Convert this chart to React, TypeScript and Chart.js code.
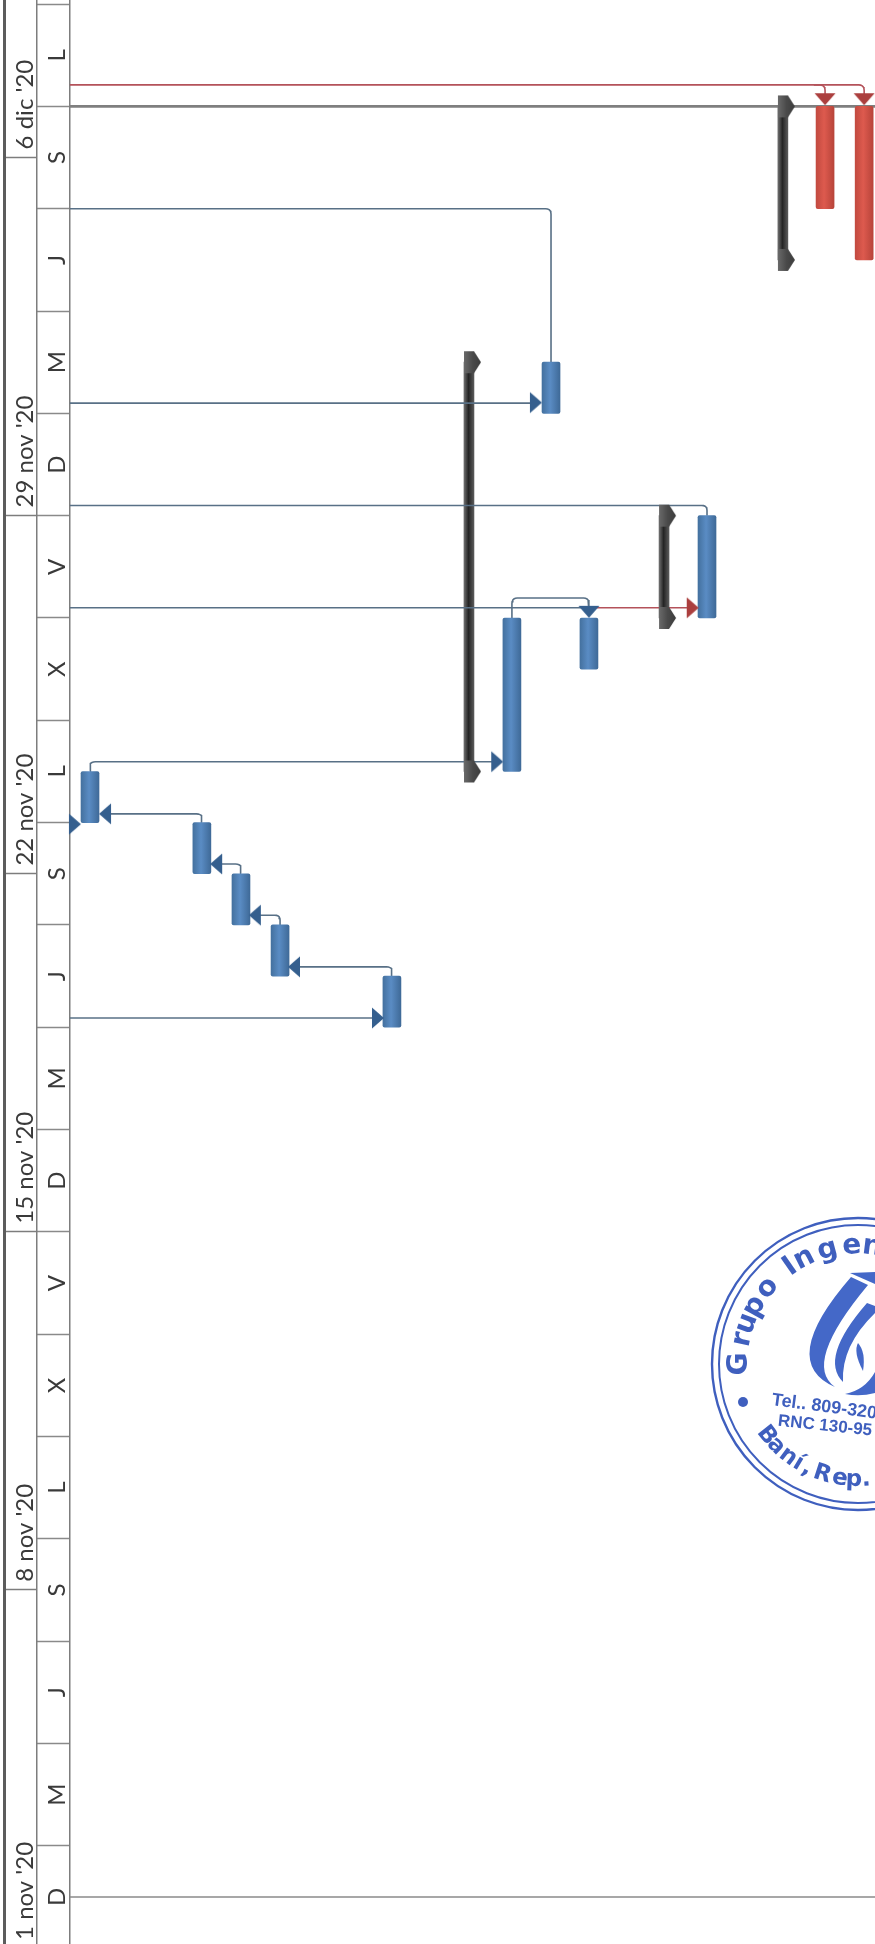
import React, { useEffect, useRef } from "react";
import { Chart, registerables } from "chart.js";

Chart.register(...registerables);

// Time is in days since Sunday 1 Nov 2020; rows count task rows of the rotated Gantt.
const dayLabels = ["D", "M", "J", "S", "L", "X", "V", "D", "M", "J", "S", "L", "X", "V", "D", "M", "J", "S", "L"];
const dayCellStarts = [0, 2, 4, 6, 8, 10, 12, 14, 16, 18, 20, 22, 24, 26, 28, 30, 32, 34, 36, 38];
const weekLabels = ["1 nov '20", "8 nov '20", "15 nov '20", "22 nov '20", "29 nov '20", "6 dic '20"];
const weekStarts = [0, 7, 14, 21, 28, 35];

const taskRows = [0, 2.89, 3.9, 4.91, 7.8, 10.9, 11.91, 12.89, 15.94];
const taskStarts = [22, 21, 20, 19, 18, 23, 30, 25, 26];
const taskEnds = [23, 22, 21, 20, 19, 26, 31, 26, 28];

const criticalRows = [18.99, 20];
const criticalStarts = [34, 33];
const criticalEnds = [36, 36];

const summaryRows = [9.79, 14.83, 17.9];
const summaryStarts = [23, 26, 33];
const summaryEnds = [31, 28, 36];

const blueLinks: number[][][] = [
  [[-0.52, 34], [11.91, 34], [11.91, 31]],
  [[-0.52, 30.2], [11.52, 30.2]],
  [[-0.52, 28.2], [15.94, 28.2], [15.94, 28]],
  [[-0.52, 26.2], [12.89, 26.2]],
  [[10.9, 26], [10.9, 26.39], [12.89, 26.39], [12.89, 26.15]],
  [[0, 23], [0, 23.19], [10.52, 23.19]],
  [[2.89, 22], [2.89, 22.17], [0.39, 22.17]],
  [[3.9, 21], [3.9, 21.19], [3.26, 21.19]],
  [[4.91, 20], [4.91, 20.19], [4.26, 20.19]],
  [[7.8, 19], [7.8, 19.18], [5.27, 19.18]],
  [[-0.52, 18.18], [7.44, 18.18]],
];
const redLinks: number[][][] = [
  [[-0.52, 36.42], [20, 36.42], [20, 36.14]],
  [[18.7, 36.42], [18.99, 36.42], [18.99, 36.14]],
  [[12.89, 26.2], [15.57, 26.2]],
];
const greyRules: number[][][] = [
  [[-0.52, 36], [20.3, 36]],
];
const thinRules: number[][][] = [
  [[-0.52, 1], [20.3, 1]],
];

const blueArrowRows = [11.52, 10.52, -0.39, 0.39, 3.26, 4.26, 5.27, 7.44, 12.89];
const blueArrowDays = [30.21, 23.19, 21.97, 22.17, 21.19, 20.19, 19.18, 18.18, 26.12];
const blueArrowTurns = [0, 0, 0, 180, 180, 180, 180, 0, 90];
const redArrowRows = [15.57, 18.99, 20];
const redArrowDays = [26.2, 36.14, 36.14];
const redArrowTurns = [0, 90, 90];

const dayMin = 0.08;
const dayMax = 38.08;
const rowMin = -0.517;
const rowMax = 20.28;
const weekLabelOffset = 0.16;

const BLUE_LINK = "#587086";
const RED_LINK = "#b4525a";

function rounded(path: number[][]): { x: number; y: number }[] {
  const rx = 0.14;
  const ry = 0.11;
  const out: { x: number; y: number }[] = [{ x: path[0][0], y: path[0][1] }];
  for (let i = 1; i < path.length - 1; i++) {
    const [px, py] = path[i - 1];
    const [cx, cy] = path[i];
    const [nx, ny] = path[i + 1];
    const cut = (ax: number, ay: number) => {
      const dx = ax - cx;
      const dy = ay - cy;
      const fx = dx === 0 ? 0 : Math.min(rx, Math.abs(dx) / 2) * Math.sign(dx);
      const fy = dy === 0 ? 0 : Math.min(ry, Math.abs(dy) / 2) * Math.sign(dy);
      return [cx + fx, cy + fy];
    };
    const a = cut(px, py);
    const b = cut(nx, ny);
    for (let k = 0; k <= 5; k++) {
      const t = k / 5;
      out.push({
        x: (1 - t) * (1 - t) * a[0] + 2 * t * (1 - t) * cx + t * t * b[0],
        y: (1 - t) * (1 - t) * a[1] + 2 * t * (1 - t) * cy + t * t * b[1],
      });
    }
  }
  const last = path[path.length - 1];
  out.push({ x: last[0], y: last[1] });
  return out;
}

function arrowSprite(color: string): HTMLCanvasElement {
  const c = document.createElement("canvas");
  c.width = 24;
  c.height = 24;
  const g = c.getContext("2d")!;
  g.fillStyle = color;
  g.beginPath();
  g.moveTo(6, 1.5);
  g.lineTo(18, 12);
  g.lineTo(6, 22.5);
  g.closePath();
  g.fill();
  return c;
}

function capSprite(): HTMLCanvasElement {
  const c = document.createElement("canvas");
  c.width = 26;
  c.height = 24;
  const g = c.getContext("2d")!;
  const grad = g.createLinearGradient(8, 0, 25, 0);
  grad.addColorStop(0, "#6a6a6a");
  grad.addColorStop(0.5, "#4a4a4a");
  grad.addColorStop(1, "#3c3c3c");
  g.fillStyle = grad;
  g.beginPath();
  g.moveTo(8, 1);
  g.lineTo(18, 1);
  g.lineTo(25, 12);
  g.lineTo(18, 23);
  g.lineTo(8, 23);
  g.closePath();
  g.fill();
  return c;
}

const stampPlugin = {
  id: "stamp",
  afterDraw(chart: any) {
    const g: CanvasRenderingContext2D = chart.ctx;
    const cx = 858;
    const cy = 1364;
    const ink = "#3f5fbe";
    g.save();
    g.strokeStyle = ink;
    g.fillStyle = ink;
    g.lineWidth = 2.4;
    g.beginPath();
    g.arc(cx, cy, 146, 0, Math.PI * 2);
    g.stroke();
    g.lineWidth = 2;
    g.beginPath();
    g.arc(cx, cy, 139, 0, Math.PI * 2);
    g.stroke();

    const top = "Grupo Ingen".split("");
    const topAngles = [0, 12, 20, 29, 40, 0, 55, 63, 75, 87, 97];
    g.font = "bold 28px 'DejaVu Sans'";
    g.textAlign = "center";
    g.textBaseline = "middle";
    top.forEach((ch, i) => {
      if (ch === " ") return;
      const a = (topAngles[i] * Math.PI) / 180;
      g.save();
      g.translate(cx - 118 * Math.cos(a), cy - 118 * Math.sin(a));
      g.rotate(a - Math.PI / 2);
      g.fillText(ch, 0, 0);
      g.restore();
    });

    const bottom = "Baní, Rep.".split("");
    const bottomAngles = [52, 45, 37, 31, 26, 0, 18, 9, 2, -4];
    g.font = "bold 23px 'DejaVu Sans'";
    bottom.forEach((ch, i) => {
      if (ch === " ") return;
      const a = (bottomAngles[i] * Math.PI) / 180;
      g.save();
      g.translate(cx - 116 * Math.sin(a), cy + 116 * Math.cos(a));
      g.rotate(a);
      g.fillText(ch, 0, 0);
      g.restore();
    });

    g.beginPath();
    g.arc(743, 1402, 5, 0, Math.PI * 2);
    g.fill();

    g.textAlign = "left";
    g.font = "bold 18px 'Liberation Sans'";
    g.save();
    g.translate(772, 1400);
    g.rotate((7.5 * Math.PI) / 180);
    g.fillText("Tel.. 809-320", 0, 0);
    g.restore();
    g.save();
    g.translate(778, 1421);
    g.rotate((6 * Math.PI) / 180);
    g.font = "bold 17px 'Liberation Sans'";
    g.fillText("RNC 130-95", 0, 0);
    g.restore();

    // logo crescents
    g.fillStyle = "#4468c8";
    g.beginPath();
    g.moveTo(851, 1277);
    g.quadraticCurveTo(777, 1362, 835, 1387);
    g.quadraticCurveTo(802, 1364, 868, 1285);
    g.closePath();
    g.fill();
    g.beginPath();
    g.moveTo(867, 1303);
    g.quadraticCurveTo(819, 1358, 843, 1382);
    g.quadraticCurveTo(841, 1346, 875, 1313);
    g.lineTo(875, 1306);
    g.closePath();
    g.fill();
    g.beginPath();
    g.moveTo(858, 1343);
    g.quadraticCurveTo(853, 1352, 863, 1371);
    g.quadraticCurveTo(866, 1352, 858, 1343);
    g.closePath();
    g.fill();
    g.beginPath();
    g.moveTo(850, 1273);
    g.lineTo(875, 1272);
    g.lineTo(875, 1284);
    g.closePath();
    g.fill();
    g.beginPath();
    g.moveTo(845, 1394);
    g.quadraticCurveTo(865, 1390, 875, 1372);
    g.lineTo(875, 1393);
    g.quadraticCurveTo(860, 1397, 845, 1394);
    g.closePath();
    g.fill();
    g.restore();
  },
};

function cylinder(stops: string[], half: number) {
  return (ctx: any) => {
    const { chart, raw } = ctx;
    if (!raw || !chart.scales.x) return stops[1];
    const px = chart.scales.x.getPixelForValue(raw.x);
    if (!Number.isFinite(px)) return stops[1];
    const grad = chart.ctx.createLinearGradient(px - half, 0, px + half, 0);
    grad.addColorStop(0, stops[0]);
    grad.addColorStop(0.45, stops[1]);
    grad.addColorStop(1, stops[2]);
    return grad;
  };
}

function bars(rows: number[], starts: number[], ends: number[], thickness: number, stops: string[], order: number, radius: number) {
  return {
    type: "bar" as const,
    data: rows.map((x, i) => ({ x, y: [starts[i], ends[i]] })),
    backgroundColor: cylinder(stops, thickness / 2),
    maxBarThickness: thickness,
    barPercentage: 1,
    categoryPercentage: 1,
    grouped: false,
    borderRadius: radius,
    borderSkipped: false,
    order,
    yAxisID: "y",
  };
}

function link(path: number[][], color: string, width: number, order: number) {
  return {
    type: "line" as const,
    data: rounded(path),
    borderColor: color,
    borderWidth: width,
    pointRadius: 0,
    tension: 0,
    fill: false,
    order,
    clip: false,
    yAxisID: "y",
  };
}

function sideAxis(weight: number, ticks: any, extra: any = {}) {
  return {
    type: "linear" as const,
    position: "left" as const,
    min: dayMin,
    max: dayMax,
    weight,
    border: { display: true, color: "#7d7d7d", width: 1.5 },
    afterFit: (s: any) => {
      s.width = 33;
      s.paddingTop = 0;
      s.paddingBottom = 0;
    },
    ...ticks,
    ...extra,
  };
}

export default function App() {
  const ref = useRef<HTMLCanvasElement | null>(null);

  useEffect(() => {
    const canvas = ref.current!;
    const blueArrow = arrowSprite("#355f8e");
    const redArrow = arrowSprite("#ab3f3e");
    const cap = capSprite();

    const dayLabelAt = new Map<number, string>();
    dayLabels.forEach((l, i) => dayLabelAt.set(dayCellStarts[i] + 1, l));
    const weekLabelAt = new Map<number, string>();
    weekLabels.forEach((l, i) => weekLabelAt.set(weekStarts[i] + weekLabelOffset, l));

    const font = { family: "Lato", size: 24 };
    const color = "#3a3a3a";

    const chart = new Chart(canvas, {
      type: "bar",
      data: {
        datasets: [
          ...thinRules.map((p) => link(p, "#8a8a8a", 1.5, 9)),
          bars(summaryRows, summaryStarts, summaryEnds, 10, ["#6e6e6e", "#242424", "#5a5a5a"], 8, 0),
          ...greyRules.map((p) => link(p, "#7f7f7f", 2.6, 7)),
          ...blueLinks.map((p) => link(p, BLUE_LINK, 1.6, 6)),
          ...redLinks.map((p) => link(p, RED_LINK, 1.6, 5)),
          {
            type: "line" as const,
            data: summaryRows.flatMap((x, i) => [
              { x, y: summaryStarts[i] },
              { x, y: summaryEnds[i] },
            ]),
            showLine: false,
            pointStyle: cap,
            pointRadius: 10,
            order: 4,
            clip: false,
            yAxisID: "y",
          },
          bars(taskRows, taskStarts, taskEnds, 18, ["#44719f", "#5a8cc4", "#3f6a98"], 3, 2),
          bars(criticalRows, criticalStarts, criticalEnds, 18, ["#c24a40", "#dd5a4e", "#b8443a"], 2, 2),
          {
            type: "line" as const,
            data: blueArrowRows.map((x, i) => ({ x, y: blueArrowDays[i] })),
            showLine: false,
            pointStyle: blueArrow,
            pointRadius: 10,
            rotation: blueArrowTurns,
            order: 1,
            clip: false,
            yAxisID: "y",
          },
          {
            type: "line" as const,
            data: redArrowRows.map((x, i) => ({ x, y: redArrowDays[i] })),
            showLine: false,
            pointStyle: redArrow,
            pointRadius: 10,
            rotation: redArrowTurns,
            order: 1,
            clip: false,
            yAxisID: "y",
          },
        ] as any,
      },
      options: {
        responsive: false,
        animation: false,
        devicePixelRatio: 1,
        layout: { autoPadding: false, padding: { left: 4, right: 0, top: 0, bottom: 0 } },
        plugins: { legend: { display: false }, tooltip: { enabled: false }, title: { display: false } },
        scales: {
          x: { type: "linear", min: rowMin, max: rowMax, display: false, offset: false, grid: { offset: false } },
          y: sideAxis(1, {
            afterBuildTicks: (s: any) => {
              s.ticks = [
                ...dayCellStarts.filter((v) => v >= dayMin && v <= dayMax),
                ...dayCellStarts.slice(0, -1).map((v) => v + 1),
              ]
                .sort((a, b) => a - b)
                .map((value) => ({ value }));
            },
            grid: {
              drawOnChartArea: false,
              tickLength: 33,
              tickWidth: (c: any) => (dayLabelAt.has(c.tick?.value) ? 0 : 1.5),
              tickColor: "#8a8a8a",
            },
            ticks: {
              autoSkip: false,
              mirror: true,
              crossAlign: "center",
              padding: -24,
              minRotation: 90,
              maxRotation: 90,
              font,
              color,
              callback: (v: any) => dayLabelAt.get(v) ?? "",
            },
          }),
          week: sideAxis(2, {
            afterBuildTicks: (s: any) => {
              s.ticks = [...weekStarts, ...weekStarts.map((v) => v + weekLabelOffset)]
                .filter((v) => v >= dayMin && v <= dayMax)
                .sort((a, b) => a - b)
                .map((value) => ({ value }));
            },
            grid: {
              drawOnChartArea: false,
              tickLength: 33,
              tickWidth: (c: any) => (weekLabelAt.has(c.tick?.value) ? 0 : 1.5),
              tickColor: "#7d7d7d",
            },
            ticks: {
              autoSkip: false,
              mirror: true,
              crossAlign: "near",
              padding: -12,
              minRotation: 90,
              maxRotation: 90,
              font,
              color,
              callback: (v: any) => weekLabelAt.get(v) ?? "",
            },
          }),
          frame: sideAxis(3, {
            afterFit: (s: any) => {
              s.width = 0;
              s.paddingTop = 0;
              s.paddingBottom = 0;
            },
            grid: { drawOnChartArea: false, drawTicks: false },
            ticks: { display: false },
            border: { display: true, color: "#5c5c5c", width: 3 },
          }),
        },
      } as any,
      plugins: [stampPlugin],
    });
    return () => chart.destroy();
  }, []);

  return (
    <canvas
      ref={ref}
      width={875}
      height={1944}
      style={{ position: "absolute", left: 0, top: 0, width: 875, height: 1944, display: "block" }}
    />
  );
}
